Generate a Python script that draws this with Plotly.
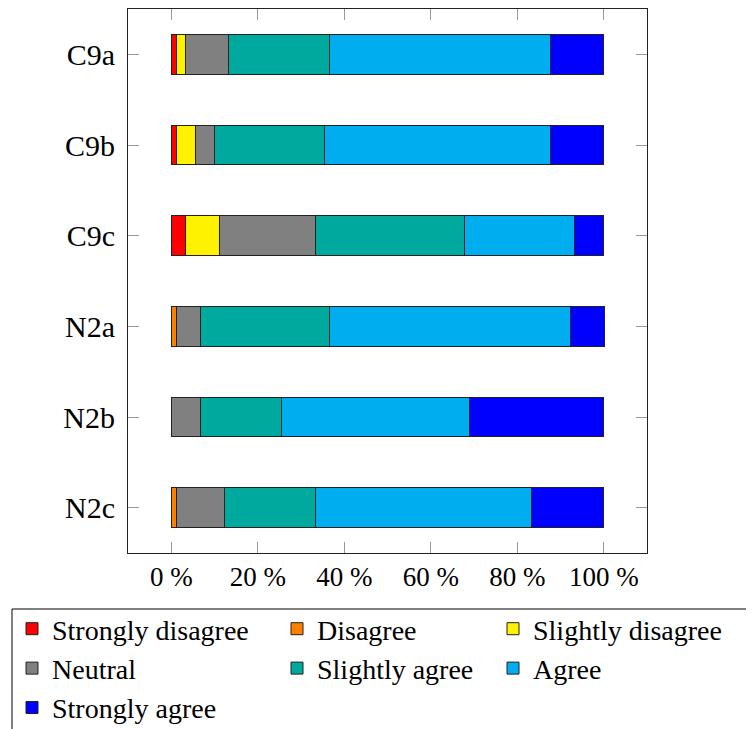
import plotly.graph_objects as go

categories = ["C9a", "C9b", "C9c", "N2a", "N2b", "N2c"]
series_names = ["Strongly disagree", "Disagree", "Slightly disagree", "Neutral",
                "Slightly agree", "Agree", "Strongly agree"]
strongly_disagree = [1.1, 1.1, 3.3, 0.0, 0.0, 0.0]
disagree = [0.0, 0.0, 0.0, 1.1, 0.0, 1.1]
slightly_disagree = [2.2, 4.4, 7.8, 0.0, 0.0, 0.0]
neutral = [10.0, 4.4, 22.2, 5.6, 6.7, 11.1]
slightly_agree = [23.3, 25.6, 34.4, 30.0, 18.9, 21.1]
agree = [51.1, 52.2, 25.6, 55.6, 43.3, 50.0]
strongly_agree = [12.2, 12.2, 6.7, 7.8, 31.1, 16.7]
tick_vals = [0, 20, 40, 60, 80, 100]
tick_text = ["0 %", "20 %", "40 %", "60 %", "80 %", "100 %"]

series = [strongly_disagree, disagree, slightly_disagree, neutral,
          slightly_agree, agree, strongly_agree]
colors = ["#FF0000", "#FF8000", "#FFF200", "#808080", "#00A99D", "#00AEEF", "#0000FF"]
# legend column of each series (3-column legend, filled row by row)
legend_ids = ["legend", "legend2", "legend3", "legend", "legend2", "legend3", "legend"]

FONT = "Liberation Serif"

fig = go.Figure()
for name, vals, col, lg in zip(series_names, series, colors, legend_ids):
    fig.add_trace(go.Bar(
        y=categories, x=vals, name=name, orientation="h",
        marker=dict(color=col, line=dict(color="#222222", width=1)),
        width=0.44, legend=lg,
    ))

W, H = 746, 721
OFF = 8  # page body margin


def leg(xpix):
    return dict(
        orientation="v", xref="container", yref="container",
        x=(xpix - OFF) / W, y=1 - (604 - OFF) / H,
        xanchor="left", yanchor="top",
        bgcolor="rgba(0,0,0,0)", borderwidth=0,
        font=dict(family=FONT, size=28, color="black"),
        traceorder="normal", tracegroupgap=0,
    )


fig.update_layout(
    barmode="stack",
    width=W, height=H,
    margin=dict(l=128 - OFF, r=107, t=9 - OFF, b=176, autoexpand=False),
    paper_bgcolor="white", plot_bgcolor="white",
    font=dict(family=FONT, size=22, color="black"),
    showlegend=True,
    legend=leg(12),
    legend2=leg(277),
    legend3=leg(493),
    shapes=[dict(
        type="rect", xref="paper", yref="paper",
        x0=(12 - 128) / 519, x1=(900 - 128) / 519,
        y0=(553 - 609) / 544, y1=(553 - 900) / 544,
        line=dict(color="black", width=1), fillcolor="rgba(0,0,0,0)",
        layer="above",
    )],
)
fig.update_xaxes(
    range=[-10, 110], tickvals=tick_vals, ticktext=tick_text,
    showgrid=False, zeroline=False,
    showline=True, linecolor="#222222", linewidth=1, mirror="ticks",
    ticks="inside", ticklen=11, tickcolor="#999999", tickwidth=1,
    tickfont=dict(family=FONT, size=27),
)
fig.update_yaxes(
    categoryorder="array", categoryarray=categories,
    range=[5.5, -0.5],
    showgrid=False, zeroline=False,
    showline=True, linecolor="#222222", linewidth=1, mirror="ticks",
    ticks="inside", ticklen=11, tickcolor="#999999", tickwidth=1,
    tickfont=dict(family=FONT, size=30),
    ticklabelstandoff=6,
)

fig.write_html("out.html")
